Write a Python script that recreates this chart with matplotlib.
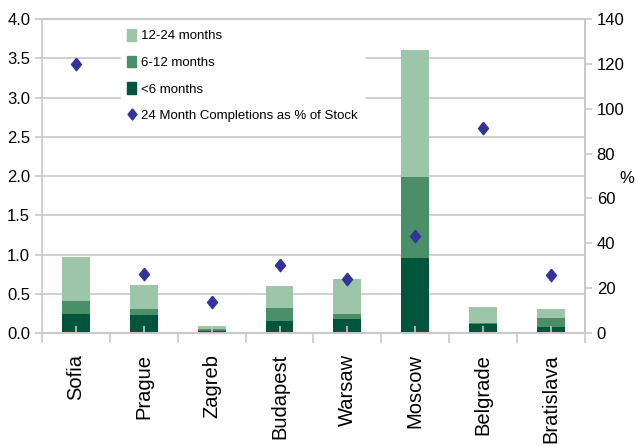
import matplotlib.pyplot as plt
import numpy as np
from matplotlib import font_manager
from matplotlib.patches import Patch
from matplotlib.lines import Line2D

# Datos
ciudades = ['Sofia', 'Prague', 'Zagreb', 'Budapest', 'Warsaw', 'Moscow', 'Belgrade', 'Bratislava']
menos_6 = [0.24, 0.23, 0.03, 0.15, 0.18, 0.96, 0.11, 0.08]
m6_12 = [0.17, 0.08, 0.02, 0.17, 0.06, 1.03, 0.02, 0.11]
m12_24 = [0.56, 0.30, 0.04, 0.28, 0.45, 1.61, 0.20, 0.12]
pct_stock = [120, 26.5, 14, 30.2, 24.3, 43.3, 91.3, 26]

colores = {'12-24': '#9dc6a8', '6-12': '#4b8f69', '<6': '#00553a', 'pct': '#33339a'}
gris = '#c8c8c8'
fuente = ['Liberation Sans', 'DejaVu Sans']

# fuente estrecha para la leyenda si existe
nombres = {f.name for f in font_manager.fontManager.ttflist}
if 'Liberation Sans Narrow' in nombres:
    fuente_leg = {'family': ['Liberation Sans Narrow', 'DejaVu Sans'], 'size': 11.5}
else:
    fuente_leg = {'family': fuente, 'size': 9.5}

diamante = [(0, 1), (0.8, 0), (0, -1), (-0.8, 0), (0, 1)]

fig = plt.figure(figsize=(6.38, 4.47), dpi=100)
ax = fig.add_axes([0.0658, 0.255, 0.851, 0.7025])
ax2 = ax.twinx()

x = np.arange(len(ciudades))
w = 0.41
b1 = np.array(menos_6)
b2 = b1 + np.array(m6_12)
ax.bar(x, menos_6, w, color=colores['<6'], zorder=2)
ax.bar(x, m6_12, w, bottom=b1, color=colores['6-12'], zorder=2)
ax.bar(x, m12_24, w, bottom=b2, color=colores['12-24'], zorder=2)

ax2.plot(x, pct_stock, linestyle='none', marker=diamante, markersize=9,
         color=colores['pct'], zorder=3)

ax.set_xlim(-0.5, len(ciudades) - 0.5)
ax.set_ylim(0, 4.0)
ticks_izq = np.arange(0, 4.01, 0.5)
ax.set_yticks(ticks_izq)
ax.set_yticklabels([f'{v:.1f}' for v in ticks_izq])
ax2.set_ylim(0, 140)
ax2.set_yticks(np.arange(0, 141, 20))

# rejilla detrás de las barras
for v in ticks_izq[1:]:
    ax.axhline(v, color=gris, linewidth=1.2, zorder=0.5)
ax.set_axisbelow(False)

# ticks x: mayores en los límites, menores en los centros
ax.set_xticks(np.arange(-0.5, len(ciudades), 1.0))
ax.set_xticklabels([])
ax.set_xticks(x, minor=True)
ax.set_xticklabels(ciudades, minor=True, rotation=90, fontsize=14.5, family=fuente)
ax.tick_params(axis='x', which='major', length=7, color=gris, width=1.2, direction='out')
ax.tick_params(axis='x', which='minor', length=5, color=gris, width=1.2, direction='in', pad=15)

for a in (ax, ax2):
    for s in a.spines.values():
        s.set_color(gris)
        s.set_linewidth(1.2)
    a.tick_params(axis='y', length=5, color=gris, width=1.2, labelsize=12)
    for t in a.get_yticklabels():
        t.set_family(fuente)
ax2.spines['left'].set_visible(False)

fig.text(0.983, 0.60, '%', fontsize=12, ha='center', va='center', family=fuente)

handles = [Patch(color=colores['12-24']), Patch(color=colores['6-12']),
           Patch(color=colores['<6']),
           Line2D([], [], linestyle='none', marker=diamante, markersize=8, color=colores['pct'])]
etiquetas = ['12-24 months', '6-12 months', '<6 months', '24 Month Completions as % of Stock']
leg = ax2.legend(handles, etiquetas, loc='upper left', bbox_to_anchor=(0.133, 1.01),
                 frameon=True, framealpha=1, edgecolor='white', fancybox=False,
                 handlelength=0.65, handleheight=1.0, handletextpad=0.35, labelspacing=1.0,
                 borderpad=0.5, prop=fuente_leg)

fig.savefig('out.png', dpi=100)
